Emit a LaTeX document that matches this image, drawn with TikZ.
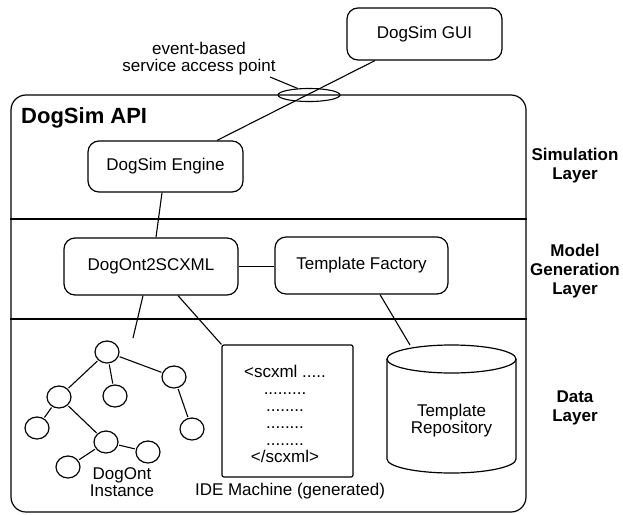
\documentclass[tikz,border=0pt]{standalone}
\usepackage{fontspec}
\setmainfont{Liberation Sans}
\usetikzlibrary{shapes.geometric,calc}
\begin{document}
\begin{tikzpicture}[x=1pt,y=-1pt,
  every node/.style={font=\fontsize{17}{17}\selectfont, inner sep=0pt},
  box/.style={draw, rounded corners=11pt, line width=1.2pt},
  conn/.style={line width=1.1pt},
  circ/.style={draw, ellipse, minimum width=24pt, minimum height=22pt, line width=1.2pt},
  tedge/.style={line width=1.1pt, shorten >=1pt, shorten <=1pt},
  layerlbl/.style={align=center, font=\bfseries\fontsize{17}{19}\selectfont},
  codeline/.style={anchor=base},
]
\useasboundingbox (0,0) rectangle (623,514);

% main API box and layer dividers
\node[box, rounded corners=15pt, minimum width=515pt, minimum height=417pt] (api) at (268.5,303.5) {};
\draw[line width=2pt] (api.west |- 0,219) -- (api.east |- 0,219);
\draw[line width=1.2pt] (api.west |- 0,319) -- (api.east |- 0,319);
\node[anchor=base west, font=\bfseries\fontsize{22}{22}\selectfont] (apilbl) at (21,123) {DogSim API};

% layer labels
\node[layerlbl] (simlbl) at (575,166) {Simulation\\Layer};
\node[layerlbl] (modlbl) at (575,271) {Model\\Generation\\Layer};
\node[layerlbl] (datlbl) at (575,408) {Data\\Layer};

% boxes
\node[box, minimum width=155pt, minimum height=52pt] (gui) at (424.5,34) {DogSim GUI};
\node[box, minimum width=155pt, minimum height=51pt] (eng) at (165.5,166.5) {DogSim Engine};
\node[box, minimum width=174pt, minimum height=57pt] (d2s) at (151,266.5) {DogOnt2SCXML};
\node[box, minimum width=173pt, minimum height=57pt] (tf) at (361.5,265.5) {Template Factory};

% service access point
\node[draw, ellipse, minimum width=62pt, minimum height=13pt, line width=1.1pt] (sap) at (309,95) {};
\node[align=center] (saplbl) at (199,58.5) {event-based\\service access point};
\coordinate (leadstart) at (270,77);
\draw[conn] (leadstart) -- (sap.150);

% connectors
\draw[conn] ([xshift=-49.5pt]gui.south) -- ([xshift=51.5pt]eng.north);
\draw[conn] ([xshift=-3.5pt]eng.south) -- ([xshift=5pt]d2s.north);
\draw[conn] (d2s.east) -- (d2s.east -| tf.west);

% IDE machine
\node[draw, rounded corners=2pt, line width=1.2pt, minimum width=131pt, minimum height=132pt] (ide) at (287.5,411) {};
\node[codeline] (l1) at (285,377) {<scxml .....};
\node[codeline] (l2) at (285,394) {.........};
\node[codeline] (l3) at (285,411) {........};
\node[codeline] (l4) at (285,428) {........};
\node[codeline] (l5) at (285,445) {........};
\node[codeline] (l6) at (285,462) {</scxml>};
\node (idelbl) at (290,491) {IDE Machine (generated)};
\draw[conn] ([xshift=27pt]d2s.south) -- (ide.north west);

% template repository (cylinder)
\draw[line width=1.2pt] (451.5,359) ellipse [x radius=64.5pt, y radius=14pt];
\draw[line width=1.2pt] (387,359) -- (387,459) arc[start angle=180, end angle=360, x radius=64.5pt, y radius=14pt] -- (516,359);
\node[align=center] (repo) at (451.5,421) {Template\\Repository};
\coordinate (repotop) at (410,345);
\draw[conn] ([xshift=18.5pt]tf.south) -- (repotop);

% DogOnt instance tree
\node[circ] (r) at (107,352) {};
\node[circ] (a) at (59,397) {};
\node[circ] (b) at (115,396) {};
\node[circ] (c) at (174,377) {};
\node[circ] (d) at (37,428) {};
\node[circ] (e) at (106,442) {};
\node[circ] (f) at (148,452) {};
\node[circ] (g) at (68,467) {};
\node[circ] (h) at (192,429) {};
\draw[tedge] (r) -- (a);
\draw[tedge] (r) -- (b);
\draw[tedge] (r) -- (c);
\draw[tedge] (a) -- (d);
\draw[tedge] (a) -- (e);
\draw[tedge] (e) -- (f);
\draw[tedge] (e) -- (g);
\draw[tedge] (c) -- (h);
\node[align=center] (treelbl) at (122,482.5) {DogOnt\\Instance};
\coordinate (treein) at (133,338);
\draw[conn] ([xshift=-8pt]d2s.south) -- (treein);
\end{tikzpicture}
\end{document}
